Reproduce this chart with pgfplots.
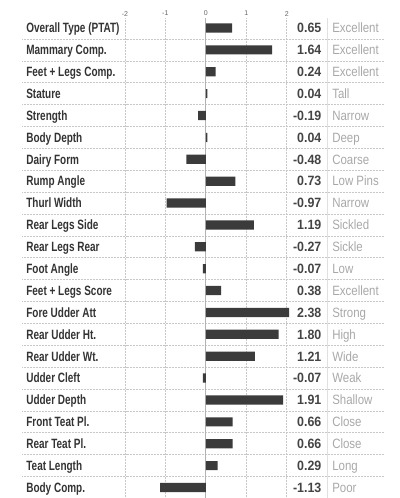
\documentclass[border=0pt]{standalone}
\usepackage{fontspec}
\setmainfont{Liberation Sans}
\newfontfamily\namefont[FakeStretch=0.74]{Liberation Sans Bold}
\newfontfamily\valfont[FakeStretch=0.92]{Liberation Sans Bold}
\newfontfamily\descfont[FakeStretch=0.85]{Liberation Sans}
\usepackage{pgfplots}
\usepackage{pgfplotstable}
\pgfplotsset{compat=1.18}
\definecolor{barc}{HTML}{3B3B3B}
\definecolor{namec}{HTML}{333333}
\definecolor{valc}{HTML}{444444}
\definecolor{descc}{HTML}{A8A8A8}
\definecolor{gridc}{HTML}{C8C8C8}
\pgfplotstableread[col sep=comma]{
name,value,desc
Overall Type (PTAT),0.65,Excellent
Mammary Comp.,1.64,Excellent
Feet + Legs Comp.,0.24,Excellent
Stature,0.04,Tall
Strength,-0.19,Narrow
Body Depth,0.04,Deep
Dairy Form,-0.48,Coarse
Rump Angle,0.73,Low Pins
Thurl Width,-0.97,Narrow
Rear Legs Side,1.19,Sickled
Rear Legs Rear,-0.27,Sickle
Foot Angle,-0.07,Low
Feet + Legs Score,0.38,Excellent
Fore Udder Att,2.38,Strong
Rear Udder Ht.,1.80,High
Rear Udder Wt.,1.21,Wide
Udder Cleft,-0.07,Weak
Udder Depth,1.91,Shallow
Front Teat Pl.,0.66,Close
Rear Teat Pl.,0.66,Close
Teat Length,0.29,Long
Body Comp.,-1.13,Poor
}\datatable
\begin{document}
\begin{tikzpicture}[x=1pt,y=1pt]
\begin{axis}[
  scale only axis,
  width=400pt, height=498pt,
  xmin=-5.086, xmax=4.790,
  ymin=-1.28, ymax=21.46,
  y dir=reverse,
  axis line style={draw=none},
  xtick=\empty, ytick=\empty,
  clip=false,
]
% horizontal separators
\pgfplotsinvokeforeach{0,...,20}{
  \draw[gridc, dash pattern=on 0.7pt off 0.8pt, line width=0.6pt] (axis cs:-4.54,#1+0.5) -- (axis cs:4.42,#1+0.5);
}
% vertical grid lines
\foreach \v in {-2,-1,1,2}{
  \edef\tmp{\noexpand\draw[gridc, dash pattern=on 0.7pt off 0.8pt, line width=0.6pt] (axis cs:\v,-0.45) -- (axis cs:\v,21.46);}\tmp
}
\draw[black!30, line width=0.8pt] (axis cs:0,-0.45) -- (axis cs:0,21.46);
\draw[black!12, line width=0.9pt] (axis cs:3.0,-0.45) -- (axis cs:3.0,21.46);
% tick labels
\foreach \v in {-2,-1,0,1,2}{
  \edef\tmp{\noexpand\node[font=\noexpand\fontsize{7}{8}\noexpand\selectfont, text=black!60, inner sep=0pt] at (axis cs:\v,-0.66) {\v};}\tmp
}
% bars (the chart clips them at the right edge of its scale)
\addplot[xbar, bar width=0.42, fill=barc, draw=none, bar shift=0pt, restrict x to domain*=-5:2.06]
  table[x=value, y expr=\coordindex] {\datatable};
% names
\addplot[draw=none, mark=none, nodes near coords, point meta=explicit symbolic,
  nodes near coords style={anchor=base west, yshift=-4.8pt, inner sep=0pt, text=namec, font=\namefont\fontsize{13.5}{14}\selectfont}]
  table[x expr=-4.44, y expr=\coordindex, meta=name] {\datatable};
% values
\addplot[draw=none, mark=none, nodes near coords, point meta=explicit symbolic,
  nodes near coords style={anchor=base east, yshift=-4.8pt, inner sep=0pt, text=valc, font=\valfont\fontsize{13.5}{14}\selectfont}]
  table[x expr=2.86, y expr=\coordindex, meta=value] {\datatable};
% descriptors
\addplot[draw=none, mark=none, nodes near coords, point meta=explicit symbolic,
  nodes near coords style={anchor=base west, yshift=-4.8pt, inner sep=0pt, text=descc, font=\descfont\fontsize{13.5}{14}\selectfont}]
  table[x expr=3.12, y expr=\coordindex, meta=desc] {\datatable};
\end{axis}
\end{tikzpicture}
\end{document}
